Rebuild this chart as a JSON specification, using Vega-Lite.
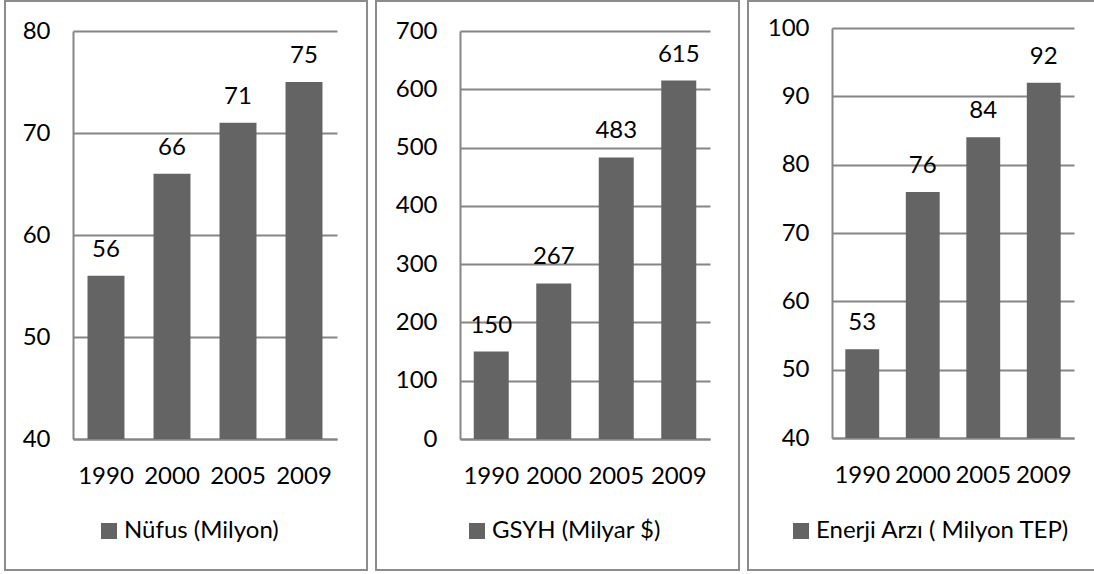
{
  "$schema": "https://vega.github.io/schema/vega-lite/v6.json",
  "padding": {"left": 4, "top": 0, "right": 0, "bottom": 0},
  "spacing": 7,
  "background": "white",
  "config": {
    "font": "Lato",
    "view": {"stroke": "#8c8c8c", "strokeWidth": 2},
    "axis": {
      "domainColor": "#868686", "domainWidth": 2,
      "gridColor": "#868686", "gridWidth": 2,
      "ticks": false,
      "labelFont": "Lato", "labelFontSize": 24, "labelColor": "#000000",
      "title": null
    },
    "axisX": {"labelAngle": 0, "labelPadding": 25, "grid": false},
    "axisY": {"labelPadding": 23, "grid": true},
    "legend": {
      "orient": "none", "title": null, "symbolType": "square", "symbolSize": 256,
      "symbolStrokeWidth": 0, "labelFont": "Lato", "labelFontSize": 24, "labelColor": "#000000",
      "padding": 0, "labelOffset": 3, "labelLimit": 0
    },
    "text": {"font": "Lato", "fontSize": 24, "color": "#000000"}
  },
  "resolve": {"scale": {"color": "independent", "x": "independent", "y": "independent"}, "legend": {"color": "independent"}},
  "hconcat": [
    {
      "width": 362, "height": 569,
      "data": {"values": [
        {"year": "1990", "value": 56, "series": "Nüfus (Milyon)"},
        {"year": "2000", "value": 66, "series": "Nüfus (Milyon)"},
        {"year": "2005", "value": 71, "series": "Nüfus (Milyon)"},
        {"year": "2009", "value": 75, "series": "Nüfus (Milyon)"}
      ]},
      "encoding": {
        "x": {"field": "year", "type": "nominal", "sort": null,
              "scale": {"type": "band", "range": [68, 332], "paddingInner": 0.44, "paddingOuter": 0.22},
              "axis": {"orient": "bottom", "offset": -131}},
        "y": {"field": "value", "type": "quantitative",
              "scale": {"domain": [40, 80], "range": [438, 30], "nice": false, "zero": false},
              "axis": {"offset": -68, "tickCount": 5}}
      },
      "layer": [
        {"mark": {"type": "bar"},
         "encoding": {"y2": {"datum": 40},
                      "color": {"field": "series", "type": "nominal", "scale": {"range": ["#646464"]},
                                "legend": {"legendX": 92, "legendY": 518}}}},
        {"mark": {"type": "text", "dy": -19, "baseline": "alphabetic"},
         "encoding": {"text": {"field": "value", "type": "quantitative"}}}
      ]
    },
    {
      "width": 363, "height": 569,
      "data": {"values": [
        {"year": "1990", "value": 150, "series": "GSYH (Milyar $)"},
        {"year": "2000", "value": 267, "series": "GSYH (Milyar $)"},
        {"year": "2005", "value": 483, "series": "GSYH (Milyar $)"},
        {"year": "2009", "value": 615, "series": "GSYH (Milyar $)"}
      ]},
      "encoding": {
        "x": {"field": "year", "type": "nominal", "sort": null,
              "scale": {"type": "band", "range": [84, 334], "paddingInner": 0.44, "paddingOuter": 0.22},
              "axis": {"orient": "bottom", "offset": -131}},
        "y": {"field": "value", "type": "quantitative",
              "scale": {"domain": [0, 700], "range": [438, 30], "nice": false, "zero": true},
              "axis": {"offset": -84, "tickCount": 7}}
      },
      "layer": [
        {"mark": {"type": "bar"},
         "encoding": {"y2": {"datum": 0},
                      "color": {"field": "series", "type": "nominal", "scale": {"range": ["#646464"]},
                                "legend": {"legendX": 89, "legendY": 518}}}},
        {"mark": {"type": "text", "dy": -19, "baseline": "alphabetic"},
         "encoding": {"text": {"field": "value", "type": "quantitative"}}}
      ]
    },
    {
      "width": 352, "height": 569,
      "data": {"values": [
        {"year": "1990", "value": 53, "series": "Enerji Arzı ( Milyon TEP)"},
        {"year": "2000", "value": 76, "series": "Enerji Arzı ( Milyon TEP)"},
        {"year": "2005", "value": 84, "series": "Enerji Arzı ( Milyon TEP)"},
        {"year": "2009", "value": 92, "series": "Enerji Arzı ( Milyon TEP)"}
      ]},
      "encoding": {
        "x": {"field": "year", "type": "nominal", "sort": null,
              "scale": {"type": "band", "range": [84, 326], "paddingInner": 0.44, "paddingOuter": 0.22},
              "axis": {"orient": "bottom", "offset": -132}},
        "y": {"field": "value", "type": "quantitative",
              "scale": {"domain": [40, 100], "range": [437, 27], "nice": false, "zero": false},
              "axis": {"offset": -84, "tickCount": 6}}
      },
      "layer": [
        {"mark": {"type": "bar"},
         "encoding": {"y2": {"datum": 40},
                      "color": {"field": "series", "type": "nominal", "scale": {"range": ["#646464"]},
                                "legend": {"legendX": 41, "legendY": 518}}}},
        {"mark": {"type": "text", "dy": -19, "baseline": "alphabetic"},
         "encoding": {"text": {"field": "value", "type": "quantitative"}}}
      ]
    }
  ]
}
